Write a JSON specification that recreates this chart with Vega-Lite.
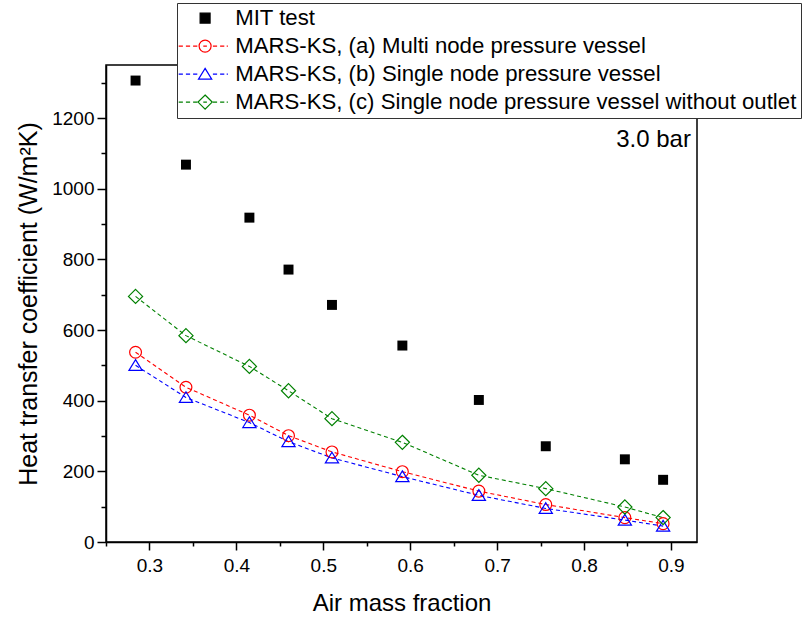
{
  "$schema": "https://vega.github.io/schema/vega-lite/v6.json",
  "width": 591,
  "height": 477,
  "autosize": {"type": "none"},
  "padding": {"left": 106, "top": 65, "right": 111, "bottom": 78},
  "background": "white",
  "config": {
    "font": "Liberation Sans",
    "view": {"stroke": "black", "strokeWidth": 1.5},
    "axis": {
      "grid": false,
      "domainColor": "black",
      "domainWidth": 1.5,
      "tickColor": "black",
      "tickWidth": 1.5,
      "labelColor": "black",
      "labelFont": "Liberation Sans",
      "labelFontSize": 19,
      "titleFont": "Liberation Sans",
      "titleFontWeight": "normal",
      "titleColor": "black"
    }
  },
  "data": {
    "values": [
      {"x": 0.284, "y": 1306, "series": "MIT test"},
      {"x": 0.342, "y": 1068, "series": "MIT test"},
      {"x": 0.415, "y": 918, "series": "MIT test"},
      {"x": 0.460, "y": 771, "series": "MIT test"},
      {"x": 0.510, "y": 671, "series": "MIT test"},
      {"x": 0.591, "y": 556, "series": "MIT test"},
      {"x": 0.679, "y": 402, "series": "MIT test"},
      {"x": 0.756, "y": 271, "series": "MIT test"},
      {"x": 0.847, "y": 234, "series": "MIT test"},
      {"x": 0.891, "y": 176, "series": "MIT test"},
      {"x": 0.284, "y": 537, "series": "MARS-KS, (a) Multi node pressure vessel"},
      {"x": 0.342, "y": 438, "series": "MARS-KS, (a) Multi node pressure vessel"},
      {"x": 0.415, "y": 359, "series": "MARS-KS, (a) Multi node pressure vessel"},
      {"x": 0.460, "y": 301, "series": "MARS-KS, (a) Multi node pressure vessel"},
      {"x": 0.510, "y": 255, "series": "MARS-KS, (a) Multi node pressure vessel"},
      {"x": 0.591, "y": 199, "series": "MARS-KS, (a) Multi node pressure vessel"},
      {"x": 0.679, "y": 144, "series": "MARS-KS, (a) Multi node pressure vessel"},
      {"x": 0.756, "y": 106, "series": "MARS-KS, (a) Multi node pressure vessel"},
      {"x": 0.847, "y": 69, "series": "MARS-KS, (a) Multi node pressure vessel"},
      {"x": 0.891, "y": 52, "series": "MARS-KS, (a) Multi node pressure vessel"},
      {"x": 0.284, "y": 500, "series": "MARS-KS, (b) Single node pressure vessel"},
      {"x": 0.342, "y": 409, "series": "MARS-KS, (b) Single node pressure vessel"},
      {"x": 0.415, "y": 338, "series": "MARS-KS, (b) Single node pressure vessel"},
      {"x": 0.460, "y": 284, "series": "MARS-KS, (b) Single node pressure vessel"},
      {"x": 0.510, "y": 238, "series": "MARS-KS, (b) Single node pressure vessel"},
      {"x": 0.591, "y": 185, "series": "MARS-KS, (b) Single node pressure vessel"},
      {"x": 0.679, "y": 132, "series": "MARS-KS, (b) Single node pressure vessel"},
      {"x": 0.756, "y": 95, "series": "MARS-KS, (b) Single node pressure vessel"},
      {"x": 0.847, "y": 62, "series": "MARS-KS, (b) Single node pressure vessel"},
      {"x": 0.891, "y": 45, "series": "MARS-KS, (b) Single node pressure vessel"},
      {"x": 0.284, "y": 695, "series": "MARS-KS, (c) Single node pressure vessel without outlet"},
      {"x": 0.342, "y": 584, "series": "MARS-KS, (c) Single node pressure vessel without outlet"},
      {"x": 0.415, "y": 497, "series": "MARS-KS, (c) Single node pressure vessel without outlet"},
      {"x": 0.460, "y": 428, "series": "MARS-KS, (c) Single node pressure vessel without outlet"},
      {"x": 0.510, "y": 349, "series": "MARS-KS, (c) Single node pressure vessel without outlet"},
      {"x": 0.591, "y": 282, "series": "MARS-KS, (c) Single node pressure vessel without outlet"},
      {"x": 0.679, "y": 189, "series": "MARS-KS, (c) Single node pressure vessel without outlet"},
      {"x": 0.756, "y": 151, "series": "MARS-KS, (c) Single node pressure vessel without outlet"},
      {"x": 0.847, "y": 99, "series": "MARS-KS, (c) Single node pressure vessel without outlet"},
      {"x": 0.891, "y": 69, "series": "MARS-KS, (c) Single node pressure vessel without outlet"}
    ]
  },
  "encoding": {
    "x": {
      "field": "x",
      "type": "quantitative",
      "scale": {"domain": [0.25, 0.93], "nice": false, "zero": false},
      "axis": {
        "title": "Air mass fraction",
        "titleFontSize": 24,
        "titlePadding": 16,
        "values": [0.25, 0.3, 0.35, 0.4, 0.45, 0.5, 0.55, 0.6, 0.65, 0.7, 0.75, 0.8, 0.85, 0.9],
        "labelExpr": "abs(datum.value * 10 - round(datum.value * 10)) < 0.01 ? format(datum.value, '.1f') : ''",
        "tickSize": {"condition": {"test": "abs(datum.value * 10 - round(datum.value * 10)) < 0.01", "value": 8}, "value": 4},
        "labelPadding": 6,
        "labelFlush": false
      }
    },
    "y": {
      "field": "y",
      "type": "quantitative",
      "scale": {"domain": [0, 1350], "nice": false},
      "axis": {
        "title": "Heat transfer coefficient (W/m²K)",
        "titleFontSize": 25,
        "titlePadding": 10,
        "values": [0, 100, 200, 300, 400, 500, 600, 700, 800, 900, 1000, 1100, 1200, 1300],
        "format": "d",
        "labelExpr": "datum.value % 200 === 0 ? datum.label : ''",
        "tickSize": {"condition": {"test": "datum.value % 200 === 0", "value": 9}, "value": 5},
        "labelPadding": 3,
        "labelFlush": false
      }
    }
  },
  "layer": [
    {
      "transform": [{"filter": "datum.series !== 'MIT test'"}],
      "mark": {"type": "line", "strokeDash": [4, 3], "strokeWidth": 1.1},
      "encoding": {
        "color": {
          "field": "series",
          "type": "nominal",
          "scale": {
            "domain": ["MARS-KS, (a) Multi node pressure vessel", "MARS-KS, (b) Single node pressure vessel", "MARS-KS, (c) Single node pressure vessel without outlet"],
            "range": ["#ff0000", "#0000ff", "#008000"]
          },
          "legend": null
        }
      }
    },
    {
      "transform": [{"filter": "datum.series === 'MIT test'"}],
      "mark": {"type": "point", "shape": "M-0.83,-0.83H0.83V0.83H-0.83Z", "filled": true, "size": 144, "color": "black", "opacity": 1},
      "encoding": {}
    },
    {
      "transform": [{"filter": "indexof(datum.series, '(a)') >= 0"}],
      "mark": {"type": "point", "shape": "circle", "filled": false, "size": 140, "strokeWidth": 1.2, "color": "#ff0000", "opacity": 1},
      "encoding": {}
    },
    {
      "transform": [{"filter": "indexof(datum.series, '(b)') >= 0"}],
      "mark": {"type": "point", "shape": "M0,-0.95L1.1,0.83L-1.1,0.83Z", "filled": false, "size": 144, "strokeWidth": 1.2, "color": "#0000ff", "opacity": 1},
      "encoding": {}
    },
    {
      "transform": [{"filter": "indexof(datum.series, '(c)') >= 0"}],
      "mark": {"type": "point", "shape": "M0,-1.18L1.18,0L0,1.18L-1.18,0Z", "filled": false, "size": 144, "strokeWidth": 1.2, "color": "#008000", "opacity": 1},
      "encoding": {}
    },
    {
      "transform": [{"filter": "false"}],
      "mark": {"type": "point", "filled": true, "size": 144, "strokeWidth": 1.2, "opacity": 1},
      "encoding": {
        "shape": {
          "field": "series",
          "type": "nominal",
          "scale": {
            "domain": ["MIT test", "MARS-KS, (a) Multi node pressure vessel", "MARS-KS, (b) Single node pressure vessel", "MARS-KS, (c) Single node pressure vessel without outlet"],
            "range": [
              "M-0.83,-0.83H0.83V0.83H-0.83Z",
              "M-4.4,0H-3.7M-3.2,0H-2.5M-2,0H-1.3M-0.3,0H0.3M1.3,0H2M2.5,0H3.2M3.6,0H3.8M1,0A1,1,0,1,1,-1,0A1,1,0,1,1,1,0Z",
              "M-4.4,0H-3.7M-3.2,0H-2.5M-2,0H-1.3M1.3,0H2M2.5,0H3.2M3.6,0H3.8M0,-0.95L1.1,0.83L-1.1,0.83Z",
              "M-4.4,0H-3.7M-3.2,0H-2.5M-2,0H-1.3M-0.3,0H0.3M1.3,0H2M2.5,0H3.2M3.6,0H3.8M0,-1.18L1.18,0L0,1.18L-1.18,0Z"
            ]
          },
          "legend": {
            "orient": "none",
            "legendX": 71,
            "legendY": -62,
            "title": null,
            "labelFont": "Liberation Sans",
            "labelFontSize": 22.2,
            "labelColor": "black",
            "labelLimit": 0,
            "symbolSize": 144,
            "symbolStrokeWidth": 1.2,
            "strokeColor": "#333333",
            "fillColor": "white",
            "padding": 4,
            "rowPadding": 5,
            "symbolOffset": 13,
            "labelOffset": 19
          }
        },
        "stroke": {
          "field": "series",
          "type": "nominal",
          "scale": {
            "domain": ["MIT test", "MARS-KS, (a) Multi node pressure vessel", "MARS-KS, (b) Single node pressure vessel", "MARS-KS, (c) Single node pressure vessel without outlet"],
            "range": ["#000000", "#ff0000", "#0000ff", "#008000"]
          }
        },
        "fill": {
          "field": "series",
          "type": "nominal",
          "scale": {
            "domain": ["MIT test", "MARS-KS, (a) Multi node pressure vessel", "MARS-KS, (b) Single node pressure vessel", "MARS-KS, (c) Single node pressure vessel without outlet"],
            "range": ["#000000", "transparent", "transparent", "transparent"]
          }
        }
      }
    },
    {
      "data": {"values": [{"x": 0.923, "y": 1138, "label": "3.0 bar"}]},
      "mark": {"type": "text", "align": "right", "baseline": "middle", "fontSize": 24, "font": "Liberation Sans", "color": "black"},
      "encoding": {
        "text": {"field": "label", "type": "nominal"}
      }
    }
  ]
}
